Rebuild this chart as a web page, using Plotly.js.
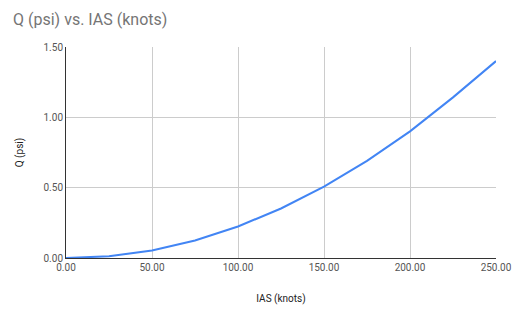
<!DOCTYPE html>
<html>
<head>
<meta charset="utf-8">
<script src="https://cdn.plot.ly/plotly-3.0.1.min.js"></script>
<style>html,body{margin:0;padding:0;background:#fff;}#chart{width:512px;height:313px;}</style>
</head>
<body>
<div id="chart"></div>
<script>
const ias = [0, 25, 50, 75, 100, 125, 150, 175, 200, 225, 250];
const q = [0, 0.012, 0.054, 0.125, 0.224, 0.352, 0.507, 0.69, 0.9, 1.142, 1.40];
const xTicks = [0, 50, 100, 150, 200, 250];
const yTicks = [0, 0.5, 1.0, 1.5];

const font = "Roboto, Arial, sans-serif";
Plotly.newPlot('chart', [{
  x: ias, y: q, type: 'scatter', mode: 'lines',
  line: {color: '#4285F4', width: 2}, hoverinfo: 'none'
}], {
  width: 512, height: 313,
  margin: {l: 66, r: 16, t: 47, b: 55},
  paper_bgcolor: '#fff', plot_bgcolor: '#fff',
  showlegend: false,
  title: {text: 'Q (psi) vs. IAS (knots)', font: {family: font, size: 16, color: '#757575'},
    xref: 'container', yref: 'container', x: 13/512, xanchor: 'left', y: 1 - 19/313, yanchor: 'middle'},
  xaxis: {
    range: [0, 250], tickvals: xTicks, ticktext: xTicks.map(v => v.toFixed(2)),
    showgrid: true, gridcolor: '#cccccc', gridwidth: 1,
    zeroline: false, showline: true, linecolor: '#333333', linewidth: 1,
    ticks: '', tickfont: {family: font, size: 10, color: '#555555'},
    title: {text: 'IAS (knots)', font: {family: font, size: 10, color: '#222222'}, standoff: 22},
    fixedrange: true
  },
  yaxis: {
    range: [0, 1.5], tickvals: yTicks, ticktext: yTicks.map(v => v.toFixed(2)),
    showgrid: true, gridcolor: '#cccccc', gridwidth: 1,
    zeroline: false, showline: true, linecolor: '#333333', linewidth: 1,
    ticks: '', tickfont: {family: font, size: 10, color: '#555555'},
    title: {text: 'Q (psi)', font: {family: font, size: 10, color: '#222222'}, standoff: 18},
    fixedrange: true
  }
}, {displayModeBar: false, staticPlot: true});
</script>
</body>
</html>
